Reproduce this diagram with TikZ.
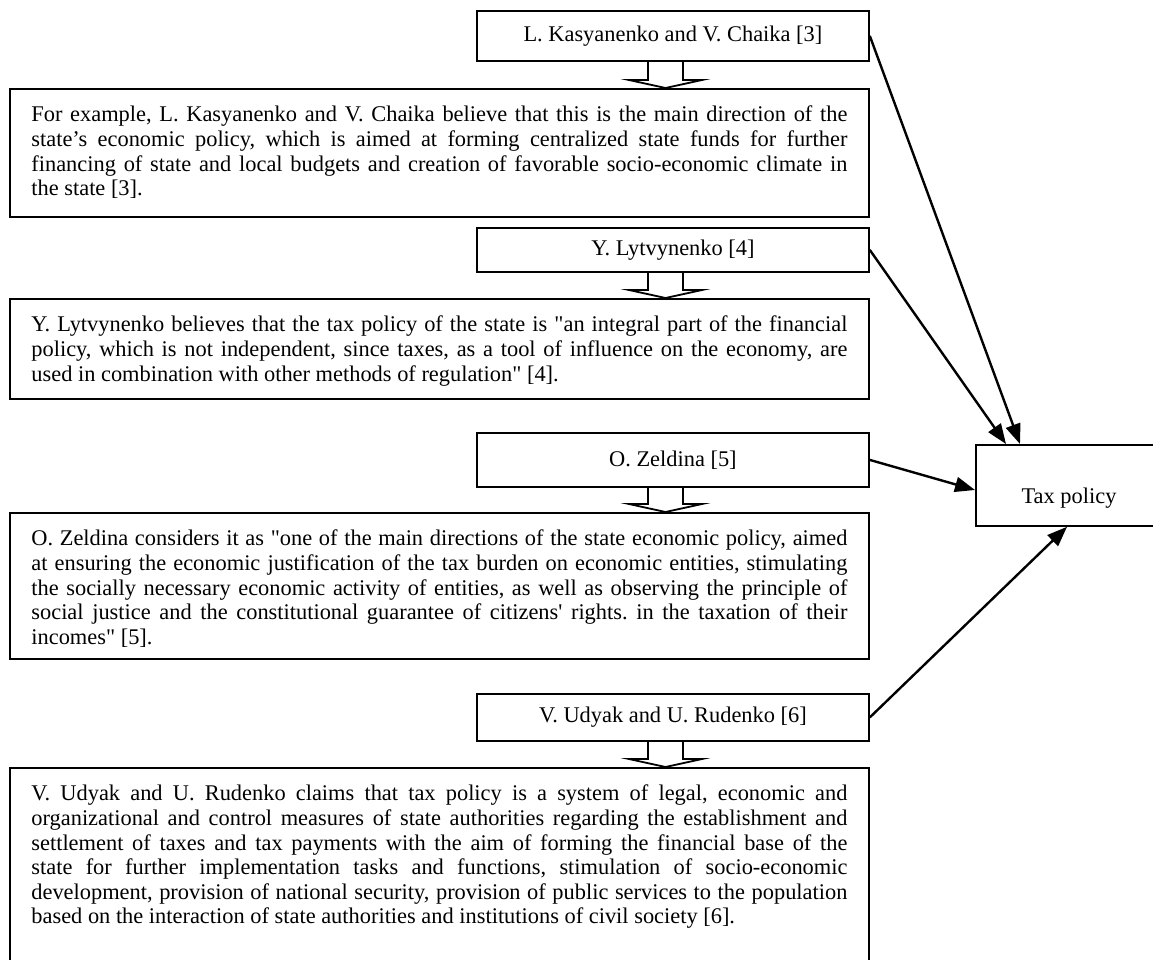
\documentclass[tikz,border=0pt]{standalone}
\usepackage{fontspec}
\setmainfont{Liberation Serif}[Ligatures=TeXOff]
\usetikzlibrary{arrows.meta,calc}
\tikzset{
  box/.style={draw, line width=1.8pt, anchor=north west, inner ysep=0pt, inner xsep=21.5pt,
              font=\fontsize{22.4}{24.6}\selectfont},
  headbox/.style={box, minimum width=392pt, align=center},
  parabox/.style={box},
  link/.style={line width=2.4pt, -{Triangle[length=20pt,width=15pt]}},
  hollow/.style={line width=1.8pt, line join=miter},
  lbl/.style={inner sep=0pt, font=\fontsize{22.4}{24.6}\selectfont}
}
\newcommand\ptext[2]{\parbox[t][#1][t]{816pt}{\frenchspacing\hyphenpenalty=10000\rule{0pt}{33pt}#2}}
\newcommand\blockarrow[2]{%
  \draw[hollow] (648,0 |- #1.south) -- ($(648,0 |- #2.north)+(0,8)$)
     -- ($(629,0 |- #2.north)+(0,8)$) -- (665.5,0 |- #2.north)
     -- ($(702,0 |- #2.north)+(0,8)$) -- ($(683,0 |- #2.north)+(0,8)$)
     -- (683,0 |- #1.south);}
\begin{document}
\begin{tikzpicture}[x=1pt,y=1pt]
\useasboundingbox (0,0) rectangle (1153,-959);

% headers
\node[headbox, minimum height=50pt] (h1) at (476,-10) {L. Kasyanenko and V. Chaika [3]};
\node[headbox, minimum height=44pt] (h2) at (476,-227) {Y. Lytvynenko [4]};
\node[headbox, minimum height=54pt] (h3) at (476,-432) {O. Zeldina [5]};
\node[headbox, minimum height=47pt] (h4) at (476,-693) {V. Udyak and U. Rudenko [6]};

% paragraphs
\node[parabox] (p1) at (9,-88) {\ptext{128pt}{For example, L. Kasyanenko and V. Chaika believe that this is the main direction of the\linebreak
state’s economic policy, which is aimed at forming centralized state funds for further\linebreak
financing of state and local budgets and creation of favorable socio-economic climate in\linebreak
the state [3].}};

\node[parabox] (p2) at (9,-298) {\ptext{100pt}{Y. Lytvynenko believes that the tax policy of the state is "an integral part of the financial\linebreak
policy, which is not independent, since taxes, as a tool of influence on the economy, are\linebreak
used in combination with other methods of regulation" [4].}};

\node[parabox] (p3) at (9,-512) {\ptext{146pt}{O. Zeldina considers it as "one of the main directions of the state economic policy, aimed\linebreak
at ensuring the economic justification of the tax burden on economic entities, stimulating\linebreak
the socially necessary economic activity of entities, as well as observing the principle of\linebreak
social justice and the constitutional guarantee of citizens' rights. in the taxation of their\linebreak
incomes" [5].}};

\node[parabox] (p4) at (9,-767) {\ptext{195pt}{V. Udyak and U. Rudenko claims that tax policy is a system of legal, economic and\linebreak
organizational and control measures of state authorities regarding the establishment and\linebreak
settlement of taxes and tax payments with the aim of forming the financial base of the\linebreak
state for further implementation tasks and functions, stimulation of socio-economic\linebreak
development, provision of national security, provision of public services to the population\linebreak
based on the interaction of state authorities and institutions of civil society [6].}};

% hollow arrows
\blockarrow{h1}{p1}
\blockarrow{h2}{p2}
\blockarrow{h3}{p3}
\blockarrow{h4}{p4}

% tax policy
\node[box, minimum width=181pt, minimum height=81pt, inner xsep=0pt] (tax) at (975,-444) {};
\node[lbl] (taxt) at (1069,-498) {Tax policy};

\coordinate (t1) at ($(tax.north west)+(45,0)$);
\coordinate (t2) at ($(tax.north west)+(31,0)$);
\coordinate (t3) at ($(tax.north west)+(0,-46)$);
\coordinate (t4) at ($(tax.south west)+(92,0)$);

\draw[link] (h1.east) -- (t1);
\draw[link] (h2.east) -- (t2);
\draw[link] (h3.east) -- (t3);
\draw[link] (h4.east) -- (t4);
\end{tikzpicture}
\end{document}
